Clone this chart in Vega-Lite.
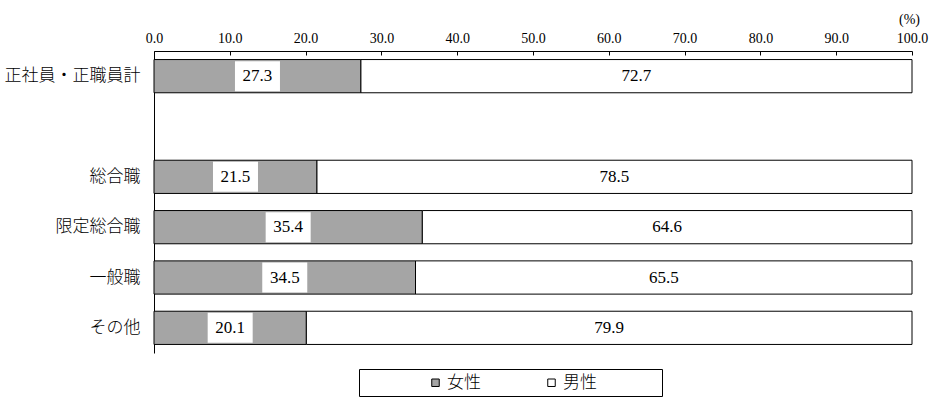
{
  "$schema": "https://vega.github.io/schema/vega-lite/v6.json",
  "width": 758,
  "height": 302,
  "autosize": {"type": "none"},
  "padding": {"left": 154, "top": 51, "right": 25, "bottom": 48},
  "background": "white",
  "config": {"view": {"stroke": null}},
  "data": {
    "values": [
      {"cat": "正社員・正職員計", "gender": "女性", "pct": 27.3},
      {"cat": "正社員・正職員計", "gender": "男性", "pct": 72.7},
      {"cat": "総合職", "gender": "女性", "pct": 21.5},
      {"cat": "総合職", "gender": "男性", "pct": 78.5},
      {"cat": "限定総合職", "gender": "女性", "pct": 35.4},
      {"cat": "限定総合職", "gender": "男性", "pct": 64.6},
      {"cat": "一般職", "gender": "女性", "pct": 34.5},
      {"cat": "一般職", "gender": "男性", "pct": 65.5},
      {"cat": "その他", "gender": "女性", "pct": 20.1},
      {"cat": "その他", "gender": "男性", "pct": 79.9}
    ]
  },
  "encoding": {
    "y": {
      "field": "cat",
      "type": "nominal",
      "title": null,
      "scale": {
        "domain": ["正社員・正職員計", " ", "総合職", "限定総合職", "一般職", "その他"],
        "paddingInner": 0.34,
        "paddingOuter": 0.17
      },
      "axis": {
        "domain": true,
        "domainColor": "black",
        "domainWidth": 1,
        "ticks": false,
        "grid": false,
        "labelFont": "Noto Sans CJK JP",
        "labelFontSize": 17,
        "labelFontWeight": 300,
        "labelColor": "black",
        "labelPadding": 14
      }
    }
  },
  "layer": [
    {
      "mark": {"type": "bar", "stroke": "black", "strokeWidth": 1},
      "encoding": {
        "x": {
          "field": "pct",
          "type": "quantitative",
          "stack": "zero",
          "scale": {"domain": [0, 100], "nice": false},
          "axis": {
            "orient": "top",
            "values": [0, 10, 20, 30, 40, 50, 60, 70, 80, 90, 100],
            "format": ".1f",
            "grid": false,
            "labelFlush": false,
            "labelFont": "'Liberation Serif', 'Times New Roman', serif",
            "labelFontSize": 14,
            "labelColor": "black",
            "labelPadding": 10,
            "domainColor": "black",
            "tickColor": "black",
            "tickSize": -4,
            "title": "(%)",
            "titleFont": "'Liberation Serif', 'Times New Roman', serif",
            "titleFontSize": 14,
            "titleFontWeight": "normal",
            "titleColor": "black",
            "titleX": 755,
            "titleY": -32,
            "titleAlign": "center",
            "titleBaseline": "middle"
          }
        },
        "color": {
          "field": "gender",
          "type": "nominal",
          "scale": {"domain": ["女性", "男性"], "range": ["#a5a5a5", "#ffffff"]},
          "legend": {
            "orient": "none",
            "legendX": 205,
            "legendY": 318,
            "direction": "horizontal",
            "title": "　",
            "titleOrient": "left",
            "titleFontSize": 17,
            "titleFont": "Noto Sans CJK JP",
            "titlePadding": 63,
            "strokeColor": "black",
            "fillColor": "white",
            "padding": 5,
            "symbolType": "square",
            "symbolSize": 56,
            "symbolStrokeColor": "black",
            "symbolStrokeWidth": 1,
            "symbolOpacity": 1,
            "labelFont": "Noto Sans CJK JP",
            "labelFontSize": 17,
            "labelFontWeight": 300,
            "labelColor": "black",
            "labelOffset": 3,
            "columnPadding": 62,
            "labelExpr": "datum.value == '男性' ? '男性⠀⠀⠀⠀⠀' : datum.label"
          }
        },
        "order": {"field": "gender", "sort": "ascending"}
      }
    },
    {
      "transform": [{"filter": "datum.gender == '女性'"}],
      "mark": {
        "type": "point",
        "shape": "M-1.5,-1H1.5V1H-1.5Z",
        "size": 900,
        "filled": true,
        "fill": "white",
        "strokeWidth": 0,
        "opacity": 1
      },
      "encoding": {
        "x": {"field": "pct", "type": "quantitative", "stack": "zero", "bandPosition": 0.5},
        "detail": {"field": "gender"},
        "order": {"field": "gender", "sort": "ascending"}
      }
    },
    {
      "mark": {"type": "text", "font": "'Liberation Serif', 'Times New Roman', serif", "fontSize": 17, "color": "black"},
      "encoding": {
        "x": {"field": "pct", "type": "quantitative", "stack": "zero", "bandPosition": 0.5},
        "detail": {"field": "gender"},
        "order": {"field": "gender", "sort": "ascending"},
        "text": {"field": "pct", "type": "quantitative", "format": ".1f"}
      }
    }
  ]
}
